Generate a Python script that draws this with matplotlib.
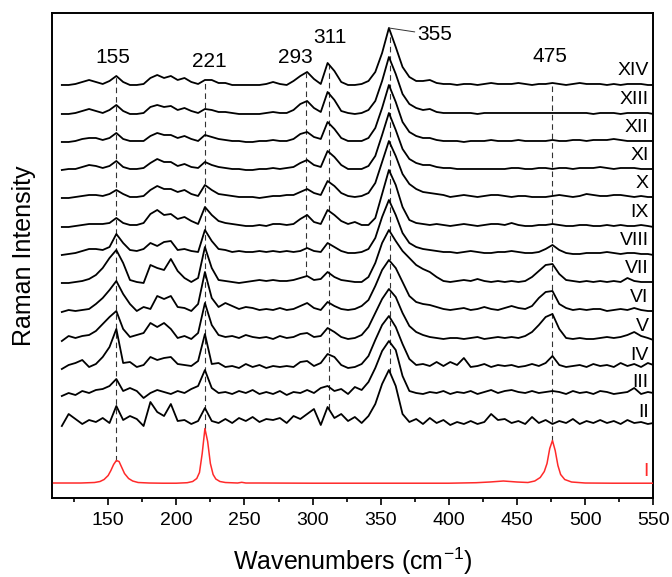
"""
stacked Raman spectra, samples I - XIV
"""

import numpy as np
import matplotlib
matplotlib.use("Agg")
import matplotlib.pyplot as plt

plt.rcParams['font.family'] = ['Liberation Sans', 'DejaVu Sans']
plt.rcParams['mathtext.fontset'] = 'custom'
plt.rcParams['mathtext.rm'] = 'Liberation Sans'
plt.rcParams['mathtext.it'] = 'Liberation Sans:italic'

# wavenumber grid of the black spectra (cm-1)
wavenumbers = list(range(116, 547, 5)) + [550]

# intensity above each baseline (arb. units)
spec_XIV = [0, 0, 1, 3, 5, 3, 1, 4, 9, 3,
            0, 0, 1, 7, 10, 7, 9, 5, 7, 3,
            1, 5, 5, 2, 2, 0, 0, 0, 0, 0,
            1, 3, 1, 0, 4, 9, 13, 6, 1, 22,
            14, 3, 0, 0, 1, 4, 13, 32, 57, 38,
            18, 8, 4, 4, 5, 2, 1, 1, 0, 1,
            1, 0, 1, 2, 1, 1, 1, 2, 1, 0,
            1, 1, 2, 1, 0, 1, 2, 1, 1, 1,
            0, 1, 0, 1, 1, 1, 0, 0]
spec_XIII = [0, 0, 1, 3, 5, 3, 1, 4, 9, 3,
             0, 0, 1, 7, 9, 7, 8, 4, 6, 3,
             1, 5, 4, 2, 2, 1, 0, 0, 0, 0,
             1, 2, 1, 1, 4, 10, 13, 6, 2, 22,
             14, 3, 1, 0, 1, 4, 13, 33, 57, 40,
             20, 10, 6, 4, 5, 2, 1, 1, 1, 1,
             1, 0, 1, 1, 1, 1, 1, 1, 1, 1,
             1, 1, 1, 1, 1, 1, 1, 1, 0, 1,
             1, 1, 0, 1, 1, 1, 1, 0]
spec_XII = [0, 0, 1, 3, 4, 4, 2, 4, 9, 3,
            1, 1, 1, 6, 9, 7, 7, 4, 6, 3,
            1, 7, 5, 3, 2, 1, 1, 0, 0, 1,
            1, 2, 1, 1, 3, 8, 10, 5, 3, 20,
            13, 4, 1, 1, 1, 4, 14, 34, 57, 40,
            20, 10, 6, 4, 4, 2, 1, 1, 1, 0,
            1, 1, 1, 2, 1, 1, 1, 2, 1, 1,
            1, 1, 2, 1, 1, 2, 2, 1, 2, 2,
            2, 3, 2, 1, 1, 1, 1, 1]
spec_XI = [0, 1, 1, 3, 5, 4, 2, 4, 9, 3,
           1, 1, 2, 7, 11, 8, 8, 4, 6, 3,
           2, 8, 5, 3, 2, 1, 1, 0, 0, 1,
           1, 2, 1, 2, 3, 7, 10, 5, 3, 19,
           13, 5, 1, 1, 1, 4, 14, 35, 57, 40,
           21, 11, 7, 5, 5, 3, 2, 2, 1, 1,
           1, 1, 1, 1, 1, 1, 2, 2, 1, 1,
           2, 2, 1, 2, 2, 1, 2, 2, 2, 3,
           2, 1, 2, 2, 2, 1, 1, 1]
spec_X = [0, 0, 1, 2, 3, 3, 2, 4, 8, 4,
          1, 1, 2, 8, 12, 9, 9, 6, 8, 4,
          2, 13, 8, 4, 3, 2, 1, 1, 1, 0,
          1, 2, 2, 3, 3, 6, 9, 5, 3, 17,
          12, 5, 2, 1, 2, 5, 15, 36, 57, 42,
          24, 14, 9, 6, 5, 4, 3, 1, 2, 3,
          2, 1, 2, 3, 3, 2, 1, 2, 2, 1,
          1, 1, 2, 3, 2, 1, 2, 4, 3, 2,
          2, 3, 3, 2, 1, 2, 1, 1]
spec_IX = [0, 0, 1, 2, 3, 3, 3, 4, 9, 4,
           2, 2, 4, 13, 17, 12, 13, 8, 10, 6,
           3, 20, 12, 6, 4, 3, 2, 1, 1, 2,
           1, 3, 3, 2, 3, 8, 12, 5, 3, 17,
           12, 6, 3, 5, 2, 2, 9, 33, 57, 42,
           20, 7, 4, 3, 2, 3, 2, 1, 2, 3,
           2, 1, 2, 3, 3, 2, 4, 2, 1, 1,
           2, 2, 3, 2, 1, 1, 2, 2, 1, 1,
           2, 1, 2, 1, 1, 2, 1, 0]
spec_VIII = [0, 1, 2, 4, 6, 6, 5, 8, 21, 12,
             5, 4, 6, 12, 9, 13, 14, 5, 6, 4,
             3, 25, 14, 6, 5, 3, 4, 3, 3, 4,
             3, 4, 3, 4, 3, 4, 7, 4, 3, 12,
             8, 4, 2, 2, 3, 6, 17, 38, 55, 40,
             22, 12, 8, 6, 5, 4, 3, 3, 2, 3,
             4, 3, 2, 2, 3, 3, 4, 3, 2, 2,
             3, 6, 10, 5, 2, 1, 1, 2, 2, 2,
             3, 2, 1, 2, 2, 1, 1, 0]
spec_VII = [0, 0, 1, 2, 4, 8, 15, 25, 33, 20,
            3, 1, 0, 18, 15, 13, 24, 12, 5, 1,
            5, 36, 15, 3, 2, 1, 0, 1, 2, 3,
            2, 3, 2, 2, 3, 5, 7, 3, 4, 11,
            6, 3, 2, 1, 1, 6, 20, 40, 53, 42,
            32, 25, 18, 14, 11, 6, 2, 1, 2, 3,
            2, 4, 2, 1, 2, 1, 2, 1, 2, 6,
            12, 18, 19, 9, 3, 2, 1, 2, 1, 2,
            1, 2, 1, 5, 2, 1, 1, 1]
spec_VI = [0, 2, 1, 2, 3, 8, 14, 22, 31, 18,
           8, 1, 5, 3, 16, 13, 16, 5, 4, 1,
           8, 40, 14, 5, 9, 6, 3, 5, 4, 2,
           3, 2, 4, 2, 3, 6, 9, 4, 2, 10,
           6, 3, 2, 3, 6, 12, 26, 42, 52, 44,
           30, 16, 10, 8, 7, 5, 3, 2, 3, 4,
           2, 3, 5, 3, 2, 4, 6, 4, 3, 6,
           14, 20, 21, 8, 4, 2, 3, 2, 3, 3,
           1, 2, 3, 2, 4, 2, 1, 1]
spec_V = [0, 5, 3, 5, 6, 10, 17, 24, 30, 12,
          4, 6, 8, 18, 14, 18, 12, 3, 5, 2,
          8, 38, 16, 6, 4, 5, 3, 6, 4, 3,
          4, 2, 5, 3, 4, 7, 8, 4, 5, 13,
          9, 4, 2, 3, 6, 14, 28, 42, 52, 44,
          28, 15, 9, 6, 4, 3, 2, 3, 3, 2,
          3, 4, 2, 3, 4, 3, 4, 3, 5, 9,
          16, 24, 27, 12, 3, 2, 3, 2, 2, 3,
          4, 3, 4, 6, 9, 5, 3, 1]
spec_IV = [0, 4, 6, 9, 2, 5, 12, 22, 40, 6,
           7, 2, 4, 12, 9, 11, 12, 5, 4, 3,
           8, 35, 5, 6, 2, 3, 1, 5, 2, 4,
           1, 3, 2, 3, 2, 7, 8, 3, 6, 15,
           12, 4, 1, 2, 5, 13, 29, 44, 53, 42,
           25, 10, 4, 5, 3, 7, 3, 7, 4, 11,
           2, 3, 5, 2, 4, 3, 4, 2, 3, 5,
           3, 6, 13, 4, 2, 3, 4, 2, 5, 3,
           4, 2, 6, 3, 5, 2, 6, 4]
spec_III = [0, 3, 1, 5, 3, 6, 7, 10, 17, 5,
            8, 5, -2, 3, 6, 4, 2, 5, 3, 7,
            10, 26, 8, 3, 4, 2, 5, 3, 6, 2,
            4, 2, 5, 1, 4, 3, 6, 3, 8, 10,
            5, 7, 2, 9, 6, 14, 28, 45, 55, 46,
            20, 5, 3, 2, 4, 3, 5, 2, 4, 3,
            5, 2, 4, 6, 3, 5, 6, 4, 3, 5,
            3, 4, 5, 4, 2, 5, 3, 4, 2, 5,
            4, 2, 3, 4, 8, 2, 4, 3]
spec_II = [0, 12, 7, 2, 6, 4, 8, 3, 20, 6,
           10, 7, 0, 24, 14, 10, 22, 5, 6, 2,
           5, 18, 5, 3, 7, 3, 8, 5, 9, 4,
           7, 6, 8, 3, 10, 7, 12, 17, 1, 19,
           8, 12, 5, 9, 3, 10, 22, 42, 56, 40,
           12, 4, 7, 2, 8, 3, 6, 1, 4, 2,
           5, 2, 4, 12, 6, 7, 3, 5, 2, 9,
           3, 6, 2, 5, 3, 7, 2, 5, 3, 6,
           3, 5, 2, 6, 3, 4, 2, 3]

# sample I (red) is sampled on its own grid
wn_I = [110, 120, 130, 140, 144, 147, 150, 152, 154, 156, 158, 160, 162, 165,
        168, 172, 180, 190, 200, 208, 212, 215, 217, 219, 221, 223, 225, 227,
        229, 232, 236, 245, 248, 251, 260, 300, 350, 400, 420, 430, 440, 450,
        458, 463, 467, 470, 472, 474, 476, 478, 480, 482, 485, 490, 500, 520, 550]
spec_I = [0.5, 0.5, 0.5, 1, 2, 4, 8, 13, 19, 23, 22, 16, 10, 5,
          2.5, 1, 0.5, 0.3, 0.3, 0.8, 2, 5, 11, 30, 55, 42, 20, 9,
          4.5, 2, 1, 0.5, 1.2, 0.5, 0.5, 0.3, 0.3, 0.3, 0.8, 1.5, 2.5, 1.5,
          1, 2.5, 6, 12, 20, 35, 43, 33, 18, 9, 4, 1.5, 0.5, 0.3, 0.3]

labels = ['XIV', 'XIII', 'XII', 'XI', 'X', 'IX', 'VIII', 'VII', 'VI', 'V', 'IV', 'III', 'II']
spectra = [spec_XIV, spec_XIII, spec_XII, spec_XI, spec_X, spec_IX, spec_VIII,
           spec_VII, spec_VI, spec_V, spec_IV, spec_III, spec_II]
offsets = [413, 384, 356, 328, 300, 271, 243, 215, 186, 157, 129, 102, 72]
offset_I = 14.5

# marked bands: position of dashed line, label text, label position, lowest trace reached
band_pos = [156, 221, 295, 312, 357, 476]
band_text = ['155', '221', '293', '311', '355', '475']
band_text_x = [153.5, 224.5, 287, 313, 377, 474]
band_text_y = [440, 436, 440, 460, 463, 441]
band_bottom = ['I', 'I', 'VII', 'II', 'II', 'I']

fig = plt.figure(figsize=(6.72, 5.77), dpi=100)
ax = fig.add_axes([0.0778, 0.1369, 0.8944, 0.8406])

# black spectra
for lab, spec, off in zip(labels, spectra, offsets):
    ax.plot(wavenumbers, np.array(spec) + off, color='black', lw=1.3, zorder=3)
    ax.text(546.5, off + 14, lab, ha='right', va='center', fontsize=14)

# red reference spectrum
ax.plot(wn_I, np.array(spec_I) + offset_I, color='#ff2a2a', lw=1.1, zorder=3)
ax.text(546.5, offset_I + 12, 'I', ha='right', va='center', fontsize=14, color='#ff2a2a')

# dashed guide lines from top trace down to the chosen trace
for pos, bottom in zip(band_pos, band_bottom):
    top = np.interp(pos, wavenumbers, spec_XIV) + offsets[0]
    if bottom == 'I':
        low = np.interp(pos, wn_I, spec_I) + offset_I
    else:
        k = labels.index(bottom)
        low = np.interp(pos, wavenumbers, spectra[k]) + offsets[k]
    ax.plot([pos, pos], [low, top], color='#333333', lw=0.8,
            linestyle=(0, (5, 3.5)), zorder=2)

for pos, txt, tx, ty in zip(band_pos, band_text, band_text_x, band_text_y):
    if txt == '355':
        peak = max(spec_XIV) + offsets[0]
        ax.annotate(txt, xy=(pos - 1, peak), xytext=(tx, ty), ha='left', va='center',
                    fontsize=15, arrowprops=dict(arrowstyle='-', lw=0.7, color='#333333',
                                                 shrinkA=0, shrinkB=0))
    else:
        ax.text(tx, ty, txt, ha='center', va='center', fontsize=15)

ax.set_xlim(109, 550)
ax.set_ylim(0, 485)
ax.set_xticks(range(150, 551, 50))
ax.set_xticks(range(125, 551, 50), minor=True)
ax.set_yticks([])
ax.tick_params(axis='x', which='major', direction='out', length=5, width=1.2,
               labelsize=14, pad=5)
ax.tick_params(axis='x', which='minor', direction='out', length=3, width=1.2)
for sp in ax.spines.values():
    sp.set_linewidth(1.4)

ax.set_xlabel('Wavenumbers (cm$^{-1}$)', fontsize=18, labelpad=12)
ax.set_ylabel('Raman Intensity', fontsize=18, labelpad=12)

plt.savefig('out.png', dpi=100)
plt.close()
